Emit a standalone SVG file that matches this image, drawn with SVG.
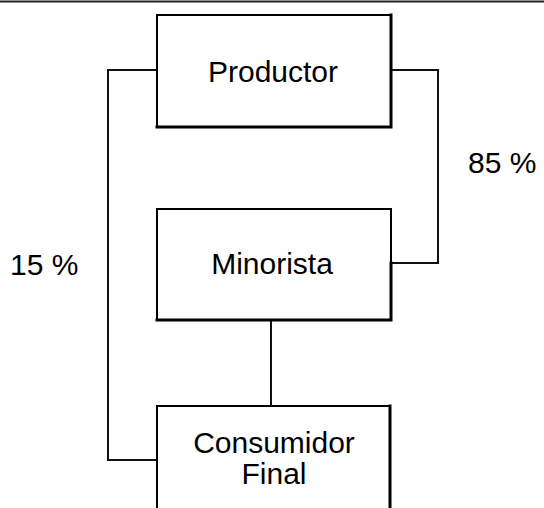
<svg xmlns="http://www.w3.org/2000/svg" width="544" height="508" viewBox="0 0 544 508">
  <style>
    .box { fill: #ffffff; stroke: #000000; stroke-width: 2; }
    .edge { fill: none; stroke: #000000; stroke-width: 3; stroke-linecap: square; }
    .conn { fill: none; stroke: #111111; stroke-width: 2; }
    .lbl { font-family: "Liberation Sans", Arial, sans-serif; font-size: 30px; fill: #000000; text-anchor: middle; }
    .pct { font-family: "Liberation Sans", Arial, sans-serif; font-size: 30px; fill: #000000; }
  </style>
  <rect width="544" height="508" fill="#ffffff"/>
  <line x1="0" y1="1.5" x2="544" y2="1.5" stroke="#222222" stroke-width="2"/>

  <g id="connectors">
    <polyline class="conn" points="157,70 108,70 108,460 157,460"/>
    <polyline class="conn" points="392,70 438,70 438,263 391,263"/>
    <line class="conn" x1="271" y1="320" x2="271" y2="406"/>
  </g>

  <g id="productor">
    <rect class="box" x="157" y="15" width="234" height="112"/>
    <path class="edge" d="M391,15 V127 H157"/>
    <text class="lbl" x="273" y="82">Productor</text>
  </g>

  <g id="minorista">
    <rect class="box" x="157" y="209" width="234" height="111"/>
    <path class="edge" d="M391,263 V320 H157"/>
    <text class="lbl" x="272" y="274">Minorista</text>
  </g>

  <g id="consumidor">
    <rect class="box" x="157" y="406" width="233" height="120"/>
    <path class="edge" d="M390,406 V520"/>
    <text class="lbl" x="274" y="453">Consumidor</text>
    <text class="lbl" x="274" y="484">Final</text>
  </g>

  <text class="pct" x="468" y="173">85 %</text>
  <text class="pct" x="10" y="275">15 %</text>
</svg>
